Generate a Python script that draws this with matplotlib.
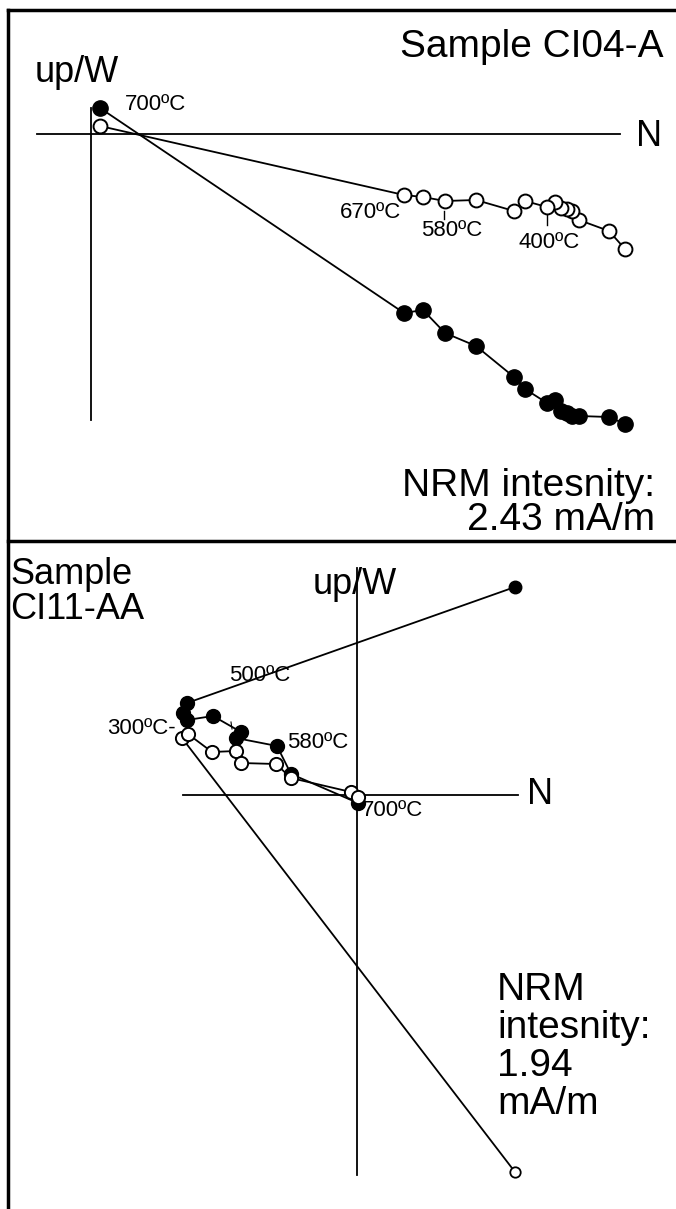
import matplotlib
matplotlib.use("Agg")
import matplotlib.pyplot as plt
from matplotlib.lines import Line2D

plt.rcParams['font.family'] = ['Liberation Sans', 'DejaVu Sans']

# ---------------- Sample CI04-A (top) ----------------
# steps from NRM to 700 C
a_temps = ["NRM", "100", "150", "200", "250", "300", "350", "400", "450",
           "500", "550", "580", "620", "670", "700"]
a_north = [5.34, 5.18, 4.88, 4.81, 4.76, 4.70, 4.64, 4.56, 4.34, 4.23,
           3.85, 3.54, 3.32, 3.13, 0.09]
a_west = [-2.90, -2.83, -2.82, -2.82, -2.79, -2.77, -2.66, -2.69, -2.55,
          -2.43, -2.12, -1.99, -1.76, -1.79, 0.26]
a_up = [-1.15, -0.97, -0.86, -0.77, -0.75, -0.74, -0.68, -0.73, -0.67,
        -0.77, -0.66, -0.67, -0.63, -0.61, 0.08]

# ---------------- Sample CI11-AA (bottom) ----------------
b_north_h = [1.58, -1.70, -1.74, -1.70, -1.44, -1.16, -1.21, -0.80, -0.66, 0.01]
b_west = [2.08, 0.92, 0.82, 0.75, 0.79, 0.63, 0.57, 0.49, 0.21, -0.08]
b_north_v = [1.58, -1.75, -1.69, -1.45, -1.21, -1.16, -0.81, -0.66, -0.06, 0.01]
b_up = [-3.77, 0.57, 0.61, 0.43, 0.44, 0.32, 0.31, 0.17, 0.03, -0.02]

W, H = 676, 1209
fig = plt.figure(figsize=(W / 100, H / 100), dpi=100)
fig.patch.set_facecolor('white')

def px_axes(x0, y0, x1, y1):
    return fig.add_axes([x0 / W, 1 - y1 / H, (x1 - x0) / W, (y1 - y0) / H])

# top panel: pixels 8..676 x 10..541, origin at (91,134), 100 px per unit
ax1 = px_axes(8, 10, 676, 541)
ax1.set_xlim((8 - 91) / 100, (676 - 91) / 100)
ax1.set_ylim((134 - 541) / 100, (134 - 10) / 100)
ax1.axis('off')

# bottom panel: pixels 8..676 x 541..1209, origin at (357,795)
ax2 = px_axes(8, 541, 676, 1209)
ax2.set_xlim((8 - 357) / 100, (676 - 357) / 100)
ax2.set_ylim((795 - 1209) / 100, (795 - 541) / 100)
ax2.axis('off')

lw = 1.3
# axes of the Zijderveld diagrams
ax1.plot([-0.54, 5.29], [0, 0], color='black', lw=lw)
ax1.plot([0, 0], [0.26, -2.86], color='black', lw=lw)
ax2.plot([-1.74, 1.61], [0, 0], color='black', lw=lw)
ax2.plot([0, 0], [2.27, -3.80], color='black', lw=lw)

# top data
ax1.plot(a_north, a_west, '-', color='black', lw=lw, marker='o', ms=11,
         mfc='black', mec='black', mew=1.0, zorder=3)
ax1.plot(a_north, a_up, '-', color='black', lw=lw, marker='o', ms=10,
         mfc='white', mec='black', mew=1.4, zorder=4)

# bottom data
ax2.plot(b_north_h, b_west, '-', color='black', lw=lw, marker='o', ms=10,
         mfc='black', mec='black', mew=1.0, zorder=3, markevery=list(range(1, len(b_west))))
ax2.plot(b_north_h[:1], b_west[:1], 'o', ms=9, mfc='black', mec='black', zorder=3)
ax2.plot(b_north_v, b_up, '-', color='black', lw=lw, marker='o', ms=9.5,
         mfc='white', mec='black', mew=1.4, zorder=4, markevery=list(range(1, len(b_up))))
ax2.plot(b_north_v[:1], b_up[:1], 'o', ms=7.5, mfc='white', mec='black', mew=1.3, zorder=4)

big = 28
small = 16
# top texts
ax1.text(5.72, 0.87, "Sample CI04-A", fontsize=big, ha='right', va='center')
ax1.text(-0.14, 0.62, "up/W", fontsize=big - 2, ha='center', va='center')
ax1.text(5.58, -0.03, "N", fontsize=big - 2, ha='center', va='center')
ax1.text(0.34, 0.29, "700ºC", fontsize=small, ha='left', va='center')
ax1.text(3.10, -0.78, "670ºC", fontsize=small, ha='right', va='center')
ax1.text(3.61, -0.96, "580ºC", fontsize=small, ha='center', va='center')
ax1.plot([3.53, 3.53], [-0.77, -0.85], color='black', lw=1.0)
ax1.text(4.58, -1.08, "400ºC", fontsize=small, ha='center', va='center')
ax1.plot([4.56, 4.56], [-0.81, -0.91], color='black', lw=1.0)
ax1.text(5.64, -3.52, "NRM intesnity:", fontsize=big, ha='right', va='center')
ax1.text(5.64, -3.86, "2.43 mA/m", fontsize=big, ha='right', va='center')

# bottom texts
ax2.text(-3.47, 2.20, "Sample", fontsize=26, ha='left', va='center')
ax2.text(-3.47, 1.85, "CI11-AA", fontsize=26, ha='left', va='center')
ax2.text(-0.02, 2.10, "up/W", fontsize=big - 2, ha='center', va='center')
ax2.text(1.83, 0.0, "N", fontsize=big - 2, ha='center', va='center')
ax2.text(-0.97, 1.19, "500ºC", fontsize=small, ha='center', va='center')
ax2.text(-1.81, 0.67, "300ºC-", fontsize=small, ha='right', va='center')
ax2.text(-0.70, 0.53, "580ºC", fontsize=small, ha='left', va='center')
ax2.text(0.05, -0.15, "700ºC", fontsize=small, ha='left', va='center')
ax2.plot([-1.26, -1.25], [0.73, 0.66], color='black', lw=0.8)
ax2.text(1.40, -1.95, "NRM", fontsize=big, ha='left', va='center')
ax2.text(1.40, -2.33, "intesnity:", fontsize=big, ha='left', va='center')
ax2.text(1.40, -2.71, "1.94", fontsize=big, ha='left', va='center')
ax2.text(1.40, -3.09, "mA/m", fontsize=big, ha='left', va='center')

# frame lines
def fline(x0, y0, x1, y1, lw=2.5):
    fig.add_artist(Line2D([x0 / W, x1 / W], [1 - y0 / H, 1 - y1 / H],
                          color='black', lw=lw))
fline(8, 10, 676, 10)
fline(8, 10, 8, 1209)
fline(8, 541, 676, 541)

fig.savefig("out.png", dpi=100, facecolor='white')
